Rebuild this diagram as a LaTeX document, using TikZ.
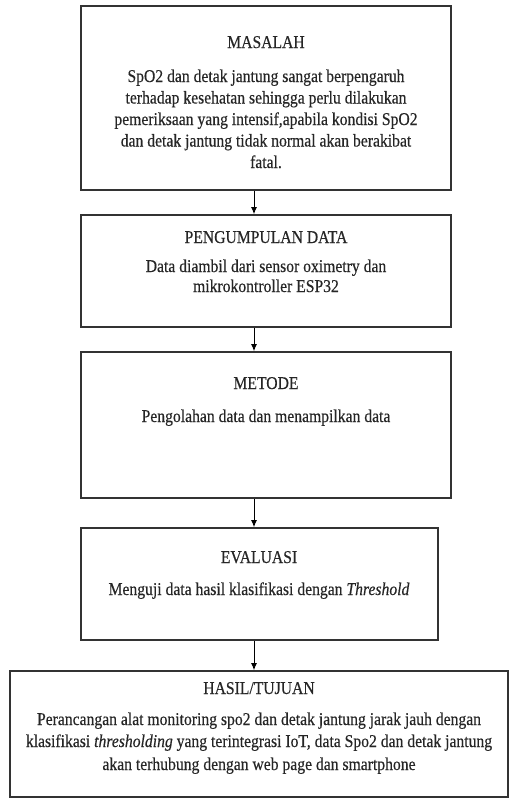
\documentclass[tikz,border=0pt]{standalone}
\usepackage{fontspec}
\setmainfont{Liberation Serif}[FakeStretch=0.87,FakeBold=0.4]
\usetikzlibrary{arrows.meta}
\begin{document}
\begin{tikzpicture}[x=1pt,y=-1pt,
  box/.style={draw=black!80,line width=1.6pt,inner sep=0pt},
  txt/.style={font=\fontsize{18}{21}\selectfont,text=black!85,inner sep=0pt,anchor=base},
  arr/.style={line width=1pt,-{Latex[length=7pt,width=6pt]}}]
\useasboundingbox (0,0) rectangle (509,807);
\node[box,minimum width=370pt,minimum height=184pt] (b1) at (266,98) {};
\node[box,minimum width=370pt,minimum height=112pt] (b2) at (266,271) {};
\node[box,minimum width=370pt,minimum height=146pt] (b3) at (266,425) {};
\node[box,minimum width=357pt,minimum height=112pt] (b4) at (259.5,584) {};
\node[box,minimum width=498pt,minimum height=126pt] (b5) at (259,734) {};
\coordinate (ax) at (254,0);
\draw[arr] (b1.south -| ax) -- (b2.north -| ax);
\draw[arr] (b2.south -| ax) -- (b3.north -| ax);
\draw[arr] (b3.south -| ax) -- (b4.north -| ax);
\draw[arr] (b4.south -| ax) -- (b5.north -| ax);
% box 1
\node[txt] (t1) at (266,48) {MASALAH};
\node[txt] (t1a) at (266,82) {SpO2 dan detak jantung  sangat berpengaruh};
\node[txt] (t1b) at (266,103.5) {terhadap kesehatan sehingga perlu dilakukan};
\node[txt] (t1c) at (266,125) {pemeriksaan yang intensif,apabila kondisi SpO2};
\node[txt] (t1d) at (266,146.5) {dan detak jantung tidak normal akan berakibat};
\node[txt] (t1e) at (266,168) {fatal.};
% box 2
\node[txt] (t2) at (266,243) {PENGUMPULAN DATA};
\node[txt] (t2a) at (266,272) {Data diambil  dari sensor oximetry  dan};
\node[txt] (t2b) at (266,292) {mikrokontroller ESP32};
% box 3
\node[txt] (t3) at (266,389) {METODE};
\node[txt] (t3a) at (266,422) {Pengolahan data dan menampilkan data};
% box 4
\node[txt] (t4) at (259,563) {EVALUASI};
\node[txt] (t4a) at (259,595) {Menguji data hasil klasifikasi dengan \textit{Threshold}};
% box 5
\node[txt] (t5) at (259,694) {HASIL/TUJUAN};
\node[txt] (t5a) at (259,725) {Perancangan alat monitoring spo2 dan detak jantung jarak jauh dengan};
\node[txt] (t5b) at (259,747) {klasifikasi \textit{thresholding} yang terintegrasi IoT, data Spo2 dan detak jantung};
\node[txt] (t5c) at (259,770) {akan terhubung dengan web page dan smartphone};
\end{tikzpicture}
\end{document}
